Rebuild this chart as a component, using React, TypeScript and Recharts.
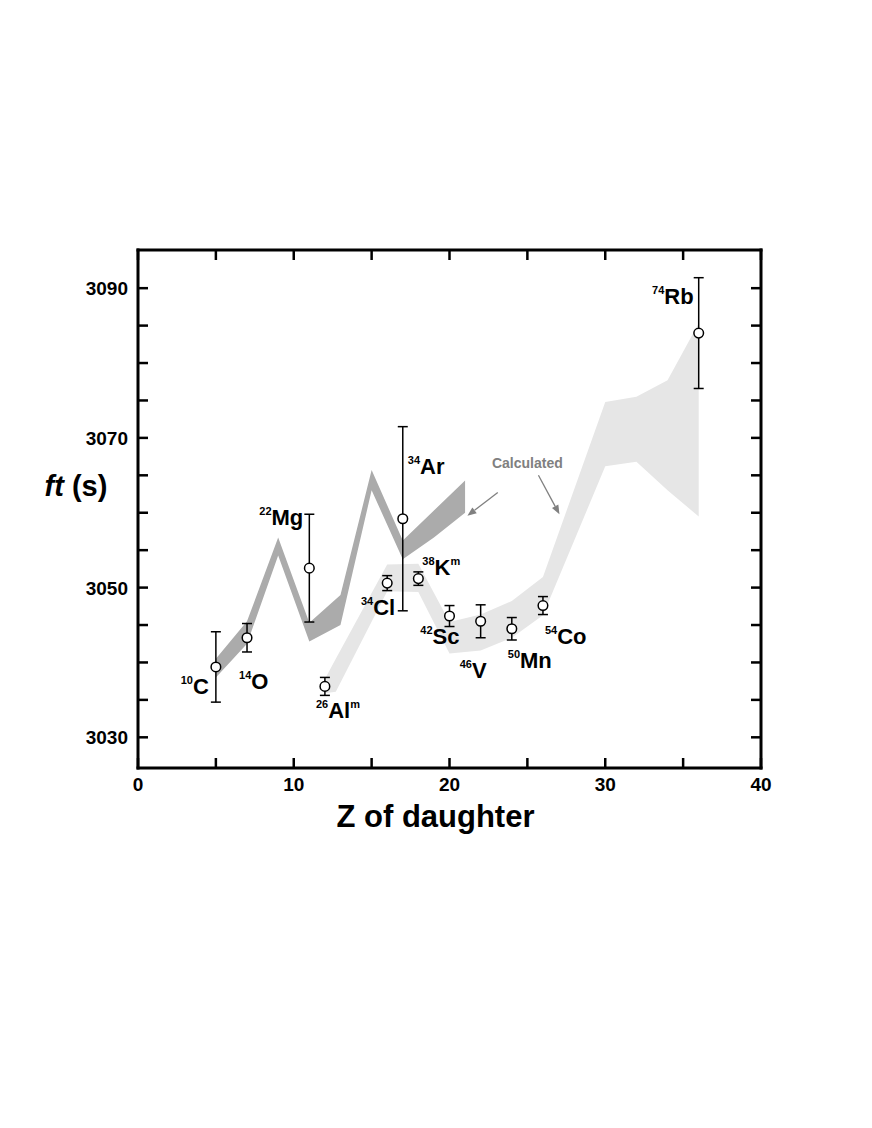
import React from 'react';
import { ComposedChart, Area, Scatter, ErrorBar, XAxis, YAxis, ReferenceLine } from 'recharts';

const FONT = '"Liberation Sans", Arial, Helvetica, sans-serif';

// measured superallowed transitions
const massNumbers = [10, 14, 22, 26, 34, 34, 38, 42, 46, 50, 54, 74];
const elements = ['C', 'O', 'Mg', 'Al', 'Cl', 'Ar', 'K', 'Sc', 'V', 'Mn', 'Co', 'Rb'];
const isomers = [false, false, false, true, false, false, true, false, false, false, false, false];
const zDaughter = [5, 7, 11, 12, 16, 17, 18, 20, 22, 24, 26, 36];
const ftValues = [3039.4, 3043.3, 3052.6, 3036.8, 3050.6, 3059.2, 3051.2, 3046.2, 3045.5, 3044.5, 3047.6, 3084.0];
const ftErrors = [4.7, 1.9, 7.2, 1.2, 1.0, 12.3, 0.9, 1.4, 2.2, 1.5, 1.2, 7.4];

// calculated band, Tz = -1 parents (dark)
const darkZ = [5, 7, 9, 11, 13, 15, 17, 19, 21];
const darkLow = [3038.0, 3042.5, 3054.3, 3042.8, 3045.0, 3063.0, 3053.8, 3056.7, 3060.0];
const darkHigh = [3040.5, 3045.5, 3056.7, 3045.3, 3049.0, 3065.7, 3056.3, 3060.3, 3064.3];

// calculated band, Tz = 0 parents (light)
const lightZ = [12, 12.7, 16, 18, 20, 22, 24, 26, 30, 32, 34, 36];
const lightLow = [3035.9, 3036.1, 3049.5, 3049.4, 3041.2, 3041.6, 3043.3, 3046.3, 3066.2, 3066.8, 3063.0, 3059.5];
const lightHigh = [3037.8, 3040.5, 3053.1, 3053.2, 3045.4, 3046.4, 3048.2, 3051.4, 3074.8, 3075.5, 3077.7, 3085.3];

const xTicks = [0, 5, 10, 15, 20, 25, 30, 35, 40];
const xTickLabels = [0, 10, 20, 30, 40];
const yTicks = [3030, 3035, 3040, 3045, 3050, 3055, 3060, 3065, 3070, 3075, 3080, 3085, 3090];
const yTickLabels = [3030, 3050, 3070, 3090];

const calcNote = [{ z: 25.0, ft: 3066.0, text: 'Calculated' }];
const calcArrows = [
  [{ x: 23.1, y: 3062.7 }, { x: 21.15, y: 3059.6 }],
  [{ x: 25.71, y: 3065.0 }, { x: 27.06, y: 3059.8 }],
];

// where each nuclide label sits relative to its point (px)
const labelOffsets: Record<string, { dx: number; dy: number; anchor: 'start' | 'end' }> = {
  '10C': { dx: -7, dy: 27, anchor: 'end' },
  '14O': { dx: -8, dy: 51, anchor: 'start' },
  '22Mg': { dx: -6, dy: -43, anchor: 'end' },
  '26Al': { dx: -9, dy: 32, anchor: 'start' },
  '34Cl': { dx: 8, dy: 32, anchor: 'end' },
  '34Ar': { dx: 5, dy: -45, anchor: 'start' },
  '38K': { dx: 4, dy: -4, anchor: 'start' },
  '42Sc': { dx: 10, dy: 28, anchor: 'end' },
  '46V': { dx: 6, dy: 57, anchor: 'end' },
  '50Mn': { dx: -4, dy: 39, anchor: 'start' },
  '54Co': { dx: 2, dy: 38, anchor: 'start' },
  '74Rb': { dx: -5, dy: -29, anchor: 'end' },
};

const nuclei = zDaughter.map((z, i) => ({
  z,
  ft: ftValues[i],
  err: ftErrors[i],
  mass: massNumbers[i],
  sym: elements[i],
  iso: isomers[i],
}));
const darkRows = darkZ.map((z, i) => ({ z, range: [darkLow[i], darkHigh[i]] }));
const lightRows = lightZ.map((z, i) => ({ z, range: [lightLow[i], lightHigh[i]] }));

const Empty = () => <g />;

const XTick = (p: any) => {
  if (!xTickLabels.includes(p.payload.value)) return <g />;
  return (
    <text x={p.x} y={p.y} textAnchor="middle" fontFamily={FONT} fontWeight="bold" fontSize={19} fill="#000">
      {p.payload.value}
    </text>
  );
};

const YTick = (p: any) => {
  if (!yTickLabels.includes(p.payload.value)) return <g />;
  return (
    <text x={p.x} y={p.y} dy={7} textAnchor="end" fontFamily={FONT} fontWeight="bold" fontSize={19} fill="#000">
      {p.payload.value}
    </text>
  );
};

const XTitle = (p: any) => {
  const vb = p.viewBox;
  return (
    <text x={vb.x + vb.width / 2 - 14} y={vb.y + 59} textAnchor="middle" fontFamily={FONT} fontWeight="bold" fontSize={31} fill="#000">
      Z of daughter
    </text>
  );
};

const YTitle = (p: any) => {
  const vb = p.viewBox;
  return (
    <text x={vb.x + 58} y={vb.y + vb.height / 2 - 13} textAnchor="middle" fontFamily={FONT} fontWeight="bold" fontSize={29} fill="#000">
      <tspan fontStyle="italic">ft</tspan>
      <tspan> (s)</tspan>
    </text>
  );
};

const OpenCircle = (p: any) => <circle cx={p.cx} cy={p.cy} r={4.8} fill="#fff" stroke="#000" strokeWidth={1.5} />;

const NuclideLabel = (p: any) => {
  const d = p.payload;
  const o = labelOffsets[`${d.mass}${d.sym}`];
  return (
    <text x={p.cx + o.dx} y={p.cy + o.dy} textAnchor={o.anchor} fontFamily={FONT} fontWeight="bold" fill="#000">
      <tspan fontSize={11} dy={-10}>{d.mass}</tspan>
      <tspan fontSize={22} dy={10}>{d.sym}</tspan>
      {d.iso && <tspan fontSize={11} dy={-10}>m</tspan>}
    </text>
  );
};

const NoteText = (p: any) => (
  <text x={p.cx} y={p.cy} textAnchor="middle" fontFamily={FONT} fontWeight="bold" fontSize={14} fill="#808080">
    {p.payload.text}
  </text>
);

const Arrow = (p: any) => {
  const { x1, y1, x2, y2 } = p;
  const a = Math.atan2(y2 - y1, x2 - x1);
  const len = 9;
  const w = 3.6;
  const bx = x2 - len * Math.cos(a);
  const by = y2 - len * Math.sin(a);
  const px = -Math.sin(a) * w;
  const py = Math.cos(a) * w;
  return (
    <g>
      <line x1={x1} y1={y1} x2={bx} y2={by} stroke="#808080" strokeWidth={1.3} />
      <polygon points={`${x2},${y2} ${bx + px},${by + py} ${bx - px},${by - py}`} fill="#808080" />
    </g>
  );
};

const frame = { stroke: '#000', strokeWidth: 3, strokeLinecap: 'square' as const };
const tickStroke = { stroke: '#000', strokeWidth: 2.5 };

export default function App() {
  return (
    <div style={{ width: 864, height: 1000 }}>
      <ComposedChart width={864} height={1000} margin={{ top: 232, right: 101, bottom: 160, left: 10 }}>
        <XAxis
          dataKey="z"
          type="number"
          domain={[0, 40]}
          ticks={xTicks}
          interval={0}
          allowDataOverflow
          height={80}
          axisLine={frame}
          tickLine={tickStroke}
          tickSize={-10}
          tickMargin={33}
          tick={<XTick />}
          label={<XTitle />}
        />
        <XAxis
          xAxisId="top"
          orientation="top"
          dataKey="z"
          type="number"
          domain={[0, 40]}
          ticks={xTicks}
          interval={0}
          allowDataOverflow
          height={10}
          axisLine={frame}
          tickLine={tickStroke}
          tickSize={-10}
          tick={<Empty />}
        />
        <YAxis
          dataKey="ft"
          type="number"
          domain={[3025.9, 3095.1]}
          ticks={yTicks}
          interval={0}
          allowDataOverflow
          width={120}
          axisLine={frame}
          tickLine={tickStroke}
          tickSize={-10}
          tickMargin={20}
          tick={<YTick />}
          label={<YTitle />}
        />
        <YAxis
          yAxisId="right"
          orientation="right"
          dataKey="ft"
          type="number"
          domain={[3025.9, 3095.1]}
          ticks={yTicks}
          interval={0}
          allowDataOverflow
          width={10}
          axisLine={frame}
          tickLine={tickStroke}
          tickSize={-10}
          tick={<Empty />}
        />

        <Area
          data={lightRows}
          dataKey="range"
          type="linear"
          stroke="none"
          fill="#e6e6e6"
          fillOpacity={1}
          dot={false}
          activeDot={false}
          isAnimationActive={false}
        />
        <Area
          data={darkRows}
          dataKey="range"
          type="linear"
          stroke="none"
          fill="#ababab"
          fillOpacity={1}
          dot={false}
          activeDot={false}
          isAnimationActive={false}
        />

        {calcArrows.map((seg, i) => (
          <ReferenceLine key={i} segment={seg} shape={Arrow} ifOverflow="visible" />
        ))}
        <Scatter data={calcNote} shape={NoteText} isAnimationActive={false} />

        <Scatter data={nuclei} shape={OpenCircle} isAnimationActive={false}>
          <ErrorBar dataKey="err" direction="y" width={5} stroke="#000" strokeWidth={1.5} />
        </Scatter>
        <Scatter data={nuclei} xAxisId="top" yAxisId="right" shape={NuclideLabel} isAnimationActive={false} />
      </ComposedChart>
    </div>
  );
}
